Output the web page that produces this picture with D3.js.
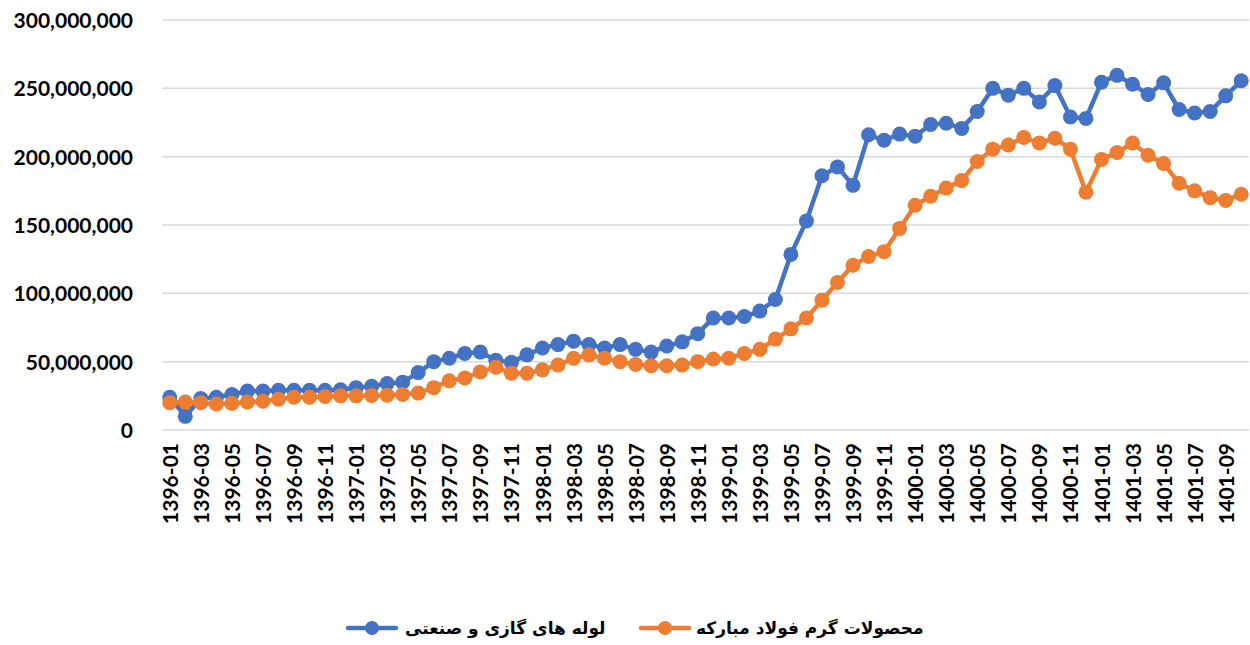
<!DOCTYPE html>
<html>
<head>
<meta charset="utf-8">
<script src="https://cdn.jsdelivr.net/npm/d3@7"></script>
<style>
  body { margin: 0; background: #fff; }
  .tick text { font-family: Lato, "Open Sans", sans-serif; font-weight: bold; fill: #000; }
  .legendText { font-family: "DejaVu Sans", sans-serif; font-weight: bold; font-size: 17px; fill: #000; }
</style>
</head>
<body>
<div id="chart"></div>
<script>
var months = [
  "1396-01","1396-02","1396-03","1396-04","1396-05","1396-06","1396-07","1396-08","1396-09","1396-10","1396-11","1396-12",
  "1397-01","1397-02","1397-03","1397-04","1397-05","1397-06","1397-07","1397-08","1397-09","1397-10","1397-11","1397-12",
  "1398-01","1398-02","1398-03","1398-04","1398-05","1398-06","1398-07","1398-08","1398-09","1398-10","1398-11","1398-12",
  "1399-01","1399-02","1399-03","1399-04","1399-05","1399-06","1399-07","1399-08","1399-09","1399-10","1399-11","1399-12",
  "1400-01","1400-02","1400-03","1400-04","1400-05","1400-06","1400-07","1400-08","1400-09","1400-10","1400-11","1400-12",
  "1401-01","1401-02","1401-03","1401-04","1401-05","1401-06","1401-07","1401-08","1401-09","1401-10"
];

// millions
var pipes = [
  24, 10, 23, 24, 26, 28.5, 28.5, 29, 29, 29, 29, 29.5,
  31, 32, 34, 35, 42, 50, 52.5, 56, 57, 51, 49.5, 55,
  60, 62.5, 65, 62.5, 60, 62.5, 59, 57, 61.5, 64.5, 70.5, 82,
  82, 83, 87, 95.5, 128.5, 153, 186, 192.5, 179, 216, 212, 216.5,
  215, 223.5, 224.5, 220.7, 233, 250, 245, 250, 240, 252, 229, 228,
  254.5, 259.5, 253, 245.5, 254, 234.5, 232, 233, 244.5, 255.5
];
var steel = [
  20, 20.5, 20, 19, 19.5, 20.5, 21, 22.5, 24, 24, 24.5, 25,
  25, 25.3, 25.5, 26, 27, 31, 36, 38, 42.5, 46, 41.5, 41.5,
  44, 47.5, 52.5, 55, 52.5, 50, 48, 47, 47, 47.5, 50, 52,
  52.5, 56, 59, 66.5, 74, 82, 95, 108, 120.5, 127, 130.5, 147.5,
  164.5, 171, 177, 182.5, 196.5, 205.5, 208.5, 214, 210, 213.5, 205.5, 174,
  198, 203, 210, 201, 195, 180.5, 175, 170, 168, 172.5
];

var seriesNames = ["لوله های گازی و صنعتی", "محصولات گرم فولاد مبارکه"];
var seriesColors = ["#4472C4", "#ED7D31"];
var yTicks = [0, 50000000, 100000000, 150000000, 200000000, 250000000, 300000000];

var width = 1250, height = 645;
var margin = {top: 20, right: 1, bottom: 215, left: 162};

var svg = d3.select("#chart").append("svg")
    .attr("width", width)
    .attr("height", height);

var x = d3.scalePoint()
    .domain(months)
    .range([margin.left, width - margin.right])
    .padding(0.5);

var y = d3.scaleLinear()
    .domain([0, 300000000])
    .range([height - margin.bottom, margin.top]);

// gridlines
svg.append("g")
    .selectAll("line").data(yTicks)
    .enter().append("line")
    .attr("x1", margin.left)
    .attr("x2", width - margin.right)
    .attr("y1", function(d) { return y(d); })
    .attr("y2", function(d) { return y(d); })
    .attr("stroke", "#D9D9D9")
    .attr("stroke-width", 1.5);

// y axis labels
var yAxis = svg.append("g")
    .attr("transform", "translate(" + (margin.left - 29) + ",0)")
    .call(d3.axisLeft(y).tickValues(yTicks).tickFormat(d3.format(",")).tickSize(0).tickPadding(0));
yAxis.select(".domain").remove();
yAxis.selectAll("text").style("font-size", "21px").attr("dy", "0.35em");

// x axis labels
var xAxis = svg.append("g")
    .attr("transform", "translate(0," + (height - margin.bottom) + ")")
    .call(d3.axisBottom(x).tickValues(months.filter(function(d, i) { return i % 2 == 0; })).tickSize(0).tickPadding(0));
xAxis.select(".domain").remove();
xAxis.selectAll("text")
    .style("font-size", "21px")
    .attr("text-anchor", "end")
    .attr("transform", "rotate(-90)")
    .attr("x", -13)
    .attr("y", 0)
    .attr("dy", "0.36em");

var seriesData = [pipes, steel];
var line = d3.line()
    .x(function(d, i) { return x(months[i]); })
    .y(function(d) { return y(d * 1000000); });

seriesData.forEach(function(vals, s) {
    var g = svg.append("g");
    g.append("path")
        .datum(vals)
        .attr("fill", "none")
        .attr("stroke", seriesColors[s])
        .attr("stroke-width", 4.5)
        .attr("stroke-linejoin", "round")
        .attr("d", line);
    g.selectAll("circle").data(vals)
        .enter().append("circle")
        .attr("cx", function(d, i) { return x(months[i]); })
        .attr("cy", function(d) { return y(d * 1000000); })
        .attr("r", 7.5)
        .attr("fill", seriesColors[s]);
});

// legend
var legendX = [348, 641];
var legend = svg.append("g").attr("transform", "translate(0,628)");
seriesNames.forEach(function(name, s) {
    var item = legend.append("g").attr("transform", "translate(" + legendX[s] + ",0)");
    item.append("line")
        .attr("x1", 0).attr("x2", 48)
        .attr("stroke", seriesColors[s])
        .attr("stroke-width", 4.5)
        .attr("stroke-linecap", "round");
    item.append("circle")
        .attr("cx", 24).attr("r", 7)
        .attr("fill", seriesColors[s]);
    item.append("text")
        .attr("class", "legendText")
        .attr("x", s == 0 ? 57 : 55)
        .attr("dy", "0.35em")
        .text(name);
});
</script>
</body>
</html>
